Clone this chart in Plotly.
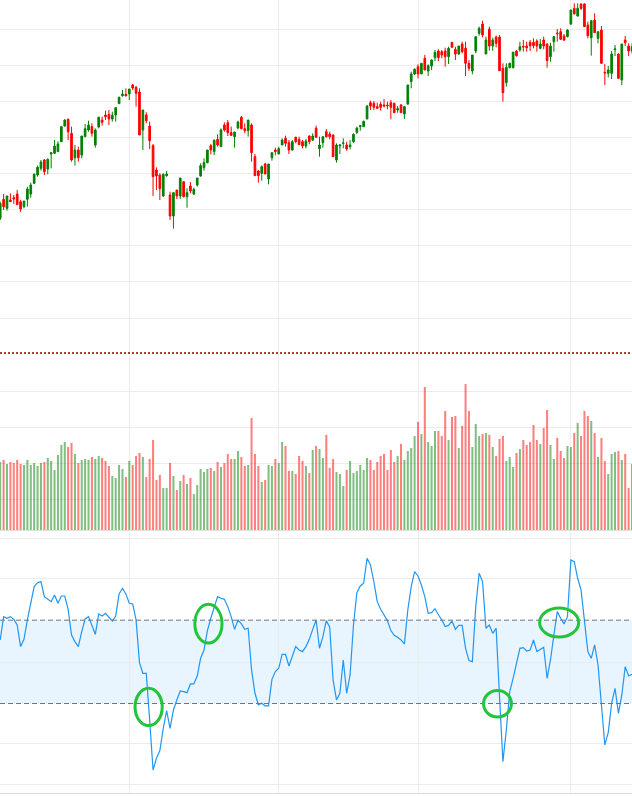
import plotly.graph_objects as go

# ---------------- data ----------------
opens = [134.5, 140.2, 137.5, 140.0, 140.7, 141.8, 139.5, 138.0, 140.2, 141.8,
         145.0, 147.5, 149.5, 152.0, 149.3, 153.8, 154.0, 154.5, 157.5, 162.2,
         164.2, 160.0, 152.7, 155.0, 153.5, 159.0, 161.0, 162.0, 156.5, 161.9,
         164.0, 165.5, 165.7, 164.3, 165.5, 168.9, 171.3, 171.7, 171.8, 174.5,
         173.8, 172.4, 161.0, 165.5, 162.2, 156.3, 149.0, 147.5, 141.2, 147.3,
         141.5, 135.2, 143.0, 141.2, 145.5, 141.0, 144.2, 141.8, 144.5, 147.2,
         149.7, 151.2, 156.3, 154.5, 158.2, 156.0, 162.5, 163.2, 160.2, 159.0,
         161.6, 164.8, 161.4, 160.8, 162.5, 153.0, 148.7, 148.0, 150.8, 146.3,
         152.7, 155.0, 153.8, 156.5, 158.5, 157.2, 155.0, 158.8, 158.2, 157.5,
         156.2, 159.2, 158.0, 161.5, 155.4, 157.2, 160.5, 159.8, 159.5, 152.0,
         156.2, 157.0, 156.5, 156.0, 157.5, 160.3, 162.0, 162.0, 164.3, 169.2,
         169.0, 168.0, 168.7, 168.5, 168.5, 169.2, 169.0, 167.0, 168.5, 165.8,
         168.8, 175.5, 177.8, 180.0, 177.8, 182.5, 178.7, 180.2, 182.7, 184.7,
         184.5, 184.7, 183.0, 187.3, 185.2, 183.8, 186.8, 185.5, 181.0, 178.7,
         184.7, 190.0, 192.8, 183.8, 191.2, 186.2, 188.9, 188.9, 179.5, 175.2,
         179.7, 179.7, 184.7, 185.0, 186.1, 186.2, 187.3, 187.3, 187.7, 185.5,
         188.0, 186.8, 183.0, 187.5, 190.1, 190.5, 189.2, 189.0, 192.8, 197.5,
         195.2, 198.8, 198.8, 192.5, 188.7, 194.0, 188.5, 191.0, 178.3, 178.0,
         178.0, 185.1, 183.8, 176.0, 188.0, 186.2, 184.7]

highs = [139.5, 141.8, 141.2, 142.0, 141.5, 143.0, 140.0, 139.7, 144.0, 145.2,
         148.0, 150.3, 152.0, 152.3, 152.5, 154.2, 158.0, 157.6, 162.2, 164.2,
         164.5, 162.0, 156.5, 156.0, 159.2, 162.8, 163.8, 163.0, 161.5, 165.0,
         165.0, 166.8, 167.0, 166.5, 167.7, 171.0, 173.0, 173.5, 173.3, 174.8,
         174.2, 173.5, 167.0, 166.3, 163.5, 156.8, 149.8, 148.0, 148.0, 148.7,
         142.5, 142.2, 143.0, 146.6, 145.5, 143.5, 145.4, 143.7, 146.6, 151.0,
         152.5, 155.0, 156.8, 158.2, 159.7, 161.5, 163.3, 164.0, 162.0, 160.4,
         163.8, 165.2, 163.0, 164.0, 163.0, 153.8, 149.0, 150.4, 151.2, 150.8,
         154.2, 155.7, 156.0, 158.5, 159.3, 158.0, 158.0, 159.0, 159.0, 158.0,
         158.3, 159.4, 160.0, 162.3, 159.0, 159.0, 161.3, 160.5, 159.7, 157.0,
         156.7, 158.5, 157.5, 158.0, 160.0, 162.0, 162.5, 163.8, 168.5, 169.8,
         169.7, 169.2, 169.5, 170.3, 169.5, 170.0, 169.2, 168.2, 168.8, 168.2,
         174.5, 178.5, 179.5, 180.7, 181.0, 183.5, 180.7, 182.2, 185.0, 185.2,
         185.0, 185.7, 186.0, 187.3, 186.0, 186.2, 187.5, 187.5, 182.0, 183.5,
         189.0, 192.0, 193.8, 189.0, 192.0, 188.7, 189.3, 189.5, 181.0, 181.0,
         181.2, 184.5, 185.0, 187.5, 188.0, 187.5, 188.0, 188.5, 188.2, 188.3,
         189.0, 187.0, 187.2, 189.2, 191.3, 191.5, 189.8, 191.2, 197.0, 199.0,
         199.0, 199.0, 199.0, 193.5, 193.8, 196.0, 190.5, 192.2, 180.8, 180.2,
         184.7, 186.5, 184.0, 186.8, 189.2, 187.0, 187.0]

lows = [134.0, 137.0, 136.8, 139.5, 138.8, 138.6, 136.4, 137.5, 138.0, 140.7,
        144.8, 147.0, 148.8, 147.5, 147.7, 149.5, 153.8, 154.5, 157.5, 162.0,
        158.0, 151.5, 150.3, 151.5, 152.5, 159.0, 160.5, 159.0, 155.7, 161.5,
        162.3, 164.0, 162.5, 163.5, 163.5, 168.9, 171.0, 171.2, 170.0, 173.0,
        168.0, 159.5, 155.0, 163.0, 155.3, 141.2, 143.0, 140.0, 141.0, 147.0,
        134.0, 131.4, 140.3, 140.3, 140.8, 137.7, 142.0, 141.5, 144.0, 147.0,
        148.8, 151.0, 153.7, 153.5, 156.0, 156.0, 160.5, 159.2, 159.2, 155.7,
        161.2, 161.2, 160.0, 159.0, 151.5, 147.3, 145.2, 145.8, 147.8, 144.7,
        151.8, 153.4, 153.8, 156.5, 156.0, 153.8, 154.8, 157.0, 156.5, 155.5,
        155.5, 156.7, 157.7, 158.8, 153.0, 155.7, 158.7, 158.2, 153.0, 151.2,
        153.8, 155.5, 154.8, 155.2, 157.2, 159.8, 160.8, 162.0, 164.3, 167.0,
        167.0, 167.5, 166.8, 167.8, 167.2, 164.2, 166.2, 166.2, 166.2, 164.3,
        168.5, 173.5, 177.5, 176.5, 177.8, 179.0, 177.2, 179.0, 181.7, 181.7,
        182.5, 180.0, 180.8, 185.8, 182.0, 183.5, 184.0, 177.2, 178.7, 177.7,
        184.0, 189.3, 188.8, 183.8, 184.8, 184.8, 185.8, 178.8, 169.5, 174.0,
        179.5, 179.5, 183.0, 184.5, 184.5, 184.5, 184.7, 185.5, 184.5, 185.2,
        185.2, 179.7, 181.5, 184.5, 187.5, 188.0, 187.7, 188.8, 192.5, 195.8,
        195.0, 197.0, 192.0, 188.5, 183.3, 190.2, 187.0, 181.0, 174.5, 176.8,
        176.3, 183.2, 176.3, 174.5, 186.2, 183.2, 184.0]

closes = [139.0, 138.0, 141.2, 139.5, 140.3, 138.6, 137.3, 139.7, 143.3, 144.5,
          147.7, 149.8, 151.4, 148.5, 152.2, 154.2, 156.2, 156.8, 162.0, 164.0,
          160.5, 152.0, 155.0, 152.7, 159.2, 161.4, 162.5, 160.0, 161.0, 164.8,
          163.3, 165.0, 164.3, 165.4, 167.7, 170.8, 171.8, 171.2, 173.3, 173.6,
          172.0, 159.5, 167.0, 163.8, 157.8, 147.0, 147.2, 143.4, 147.7, 147.8,
          135.2, 142.2, 141.2, 146.6, 141.0, 142.2, 142.7, 143.2, 146.6, 150.3,
          151.2, 155.0, 155.0, 157.9, 156.5, 161.0, 161.0, 160.2, 159.4, 160.4,
          163.4, 161.4, 160.8, 164.0, 154.2, 147.3, 147.3, 150.0, 147.8, 150.8,
          154.2, 154.5, 155.4, 158.0, 157.0, 155.0, 157.5, 157.5, 156.6, 156.2,
          157.7, 157.5, 159.2, 158.8, 156.5, 159.0, 159.0, 159.0, 153.0, 156.5,
          156.5, 157.1, 155.3, 156.5, 159.7, 161.6, 162.3, 163.6, 168.2, 168.2,
          167.8, 167.5, 167.8, 168.2, 168.3, 167.8, 166.2, 167.4, 166.2, 168.0,
          174.5, 177.8, 179.2, 177.8, 181.0, 179.0, 180.3, 182.0, 184.3, 182.7,
          183.5, 183.0, 185.5, 185.8, 183.8, 186.2, 184.5, 181.0, 179.5, 183.5,
          189.0, 191.5, 189.5, 188.0, 186.2, 188.0, 187.0, 178.8, 172.2, 179.8,
          181.0, 184.3, 183.3, 186.0, 185.9, 185.7, 186.3, 186.3, 186.2, 186.8,
          186.2, 181.8, 186.2, 189.0, 189.9, 188.2, 188.0, 191.0, 197.0, 195.8,
          197.5, 197.5, 192.0, 189.3, 193.8, 190.2, 190.5, 181.0, 178.1, 179.0,
          183.8, 185.3, 176.5, 186.8, 187.2, 184.7, 186.0]

volumes = [68, 70, 66, 68, 67, 70, 66, 65, 70, 65,
           67, 64, 67, 68, 72, 69, 60, 75, 85, 88,
           83, 87, 76, 67, 70, 71, 70, 73, 71, 74,
           72, 69, 64, 54, 52, 65, 61, 53, 69, 65,
           74, 77, 73, 53, 71, 90, 50, 55, 42, 42,
           67, 54, 40, 49, 55, 46, 52, 36, 45, 61,
           58, 61, 62, 59, 68, 63, 67, 76, 71, 71,
           79, 73, 64, 65, 112, 76, 64, 48, 50, 65,
           64, 71, 67, 88, 84, 59, 59, 56, 74, 69,
           64, 57, 80, 84, 81, 72, 95, 62, 71, 58,
           56, 44, 60, 69, 57, 59, 65, 60, 72, 70,
           60, 68, 74, 76, 60, 80, 68, 74, 86, 70,
           79, 82, 94, 108, 96, 143, 88, 84, 99, 99,
           94, 119, 90, 113, 114, 82, 104, 146, 119, 83,
           106, 94, 96, 97, 95, 83, 74, 91, 94, 69,
           73, 63, 77, 81, 90, 85, 88, 105, 90, 86,
           102, 120, 85, 71, 92, 79, 72, 84, 83, 97,
           107, 94, 119, 114, 109, 97, 73, 92, 69, 56,
           76, 78, 79, 70, 76, 42, 66]

rsi = [60.5, 71.7, 70.9, 71.7, 70.4, 67.7, 57.3, 60.8, 70.1, 78.9,
       86.1, 88.0, 88.5, 81.3, 80.0, 78.9, 82.1, 78.1, 81.6, 81.6,
       75.2, 62.9, 59.7, 57.3, 64.5, 70.6, 71.7, 67.7, 63.2, 73.0,
       72.0, 73.3, 71.4, 69.6, 72.0, 82.6, 85.3, 82.6, 78.1, 77.8,
       70.1, 49.6, 44.5, 44.5, 22.1, -1.9, 3.7, 7.4, 18.1, 26.6,
       18.1, 26.9, 31.7, 36.0, 35.7, 35.2, 39.4, 39.4, 43.2, 51.7,
       55.7, 65.0, 70.9, 76.5, 81.3, 80.5, 80.0, 76.5, 71.7, 65.6,
       70.1, 68.2, 65.6, 66.1, 46.1, 34.9, 29.3, 30.1, 28.9, 28.9,
       41.6, 45.3, 46.9, 53.6, 53.6, 48.0, 52.5, 57.3, 55.7, 54.9,
       57.3, 60.8, 65.6, 70.1, 56.5, 62.1, 69.8, 66.6, 41.3, 31.7,
       34.9, 50.9, 34.9, 43.7, 67.7, 83.2, 86.4, 87.7, 99.7, 96.5,
       88.5, 78.9, 75.2, 72.6, 69.8, 65.0, 62.7, 61.8, 60.5, 58.6,
       74.9, 86.1, 93.3, 91.2, 86.9, 81.3, 73.3, 73.6, 75.5, 72.6,
       70.1, 66.9, 67.5, 69.6, 65.6, 67.5, 67.5, 56.5, 50.6, 50.1,
       76.5, 92.5, 88.5, 66.1, 67.7, 63.7, 66.1, 33.3, 2.1, 17.3,
       35.7, 42.1, 49.6, 56.5, 56.8, 55.2, 55.7, 60.5, 54.9, 56.0,
       57.0, 42.1, 50.9, 62.9, 74.1, 70.9, 68.2, 71.7, 98.9, 98.1,
       90.1, 84.5, 70.1, 54.9, 51.7, 58.1, 48.5, 30.9, 10.1, 16.0,
       30.1, 37.3, 25.3, 34.1, 47.7, 43.2, 44.0]

# bar index of period boundaries (vertical grid lines)
period_ticks = [38, 82, 123, 168]
# oscillator bands
rsi_upper, rsi_lower = 70, 30
# highlighted crossings (x from, x to, y from, y to) in bar index / oscillator units
highlights = [(39.7, 47.7, 19.4, 37.3),
              (57.3, 65.3, 59.0, 77.6),
              (142.3, 150.5, 23.5, 36.2),
              (158.8, 170.3, 61.9, 75.8)]

idx = list(range(len(opens)))

# ---------------- styles ----------------
UP = "#008000"
DOWN = "#ff0000"
GRID = "#ececec"
FIG_W, FIG_H = 632, 796

vol_colors = ["rgba(0,128,0,0.5)" if c >= o else "rgba(255,0,0,0.5)"
              for o, c in zip(opens, closes)]

fig = go.Figure()
fig.add_trace(go.Candlestick(
    x=idx, open=opens, high=highs, low=lows, close=closes,
    xaxis="x", yaxis="y",
    increasing=dict(line=dict(color=UP, width=1), fillcolor=UP),
    decreasing=dict(line=dict(color=DOWN, width=1), fillcolor=DOWN),
    whiskerwidth=0, hoverinfo="skip", showlegend=False))
fig.add_trace(go.Bar(
    x=idx, y=volumes, width=0.6, xaxis="x2", yaxis="y2",
    marker=dict(color=vol_colors, line=dict(width=0)),
    hoverinfo="skip", showlegend=False))
fig.add_trace(go.Scatter(
    x=idx, y=rsi, mode="lines", xaxis="x3", yaxis="y3",
    line=dict(color="#2196f3", width=1.2),
    hoverinfo="skip", showlegend=False))

xcommon = dict(range=[-0.06, 186.0], tickvals=period_ticks, showticklabels=False,
               showgrid=True, gridcolor=GRID, gridwidth=1, zeroline=False,
               ticks="", fixedrange=True)

def px_frac(p):
    return 1 - p / FIG_H

fig.update_layout(
    width=FIG_W, height=FIG_H,
    margin=dict(l=0, r=0, t=0, b=0),
    paper_bgcolor="white", plot_bgcolor="white",
    showlegend=False,
    xaxis=dict(xcommon, anchor="y", showline=False, rangeslider=dict(visible=False)),
    xaxis2=dict(xcommon, anchor="y2", matches="x", showline=False),
    xaxis3=dict(xcommon, anchor="y3", matches="x", showline=True, linecolor="#d8d8d8", linewidth=1),
    yaxis=dict(domain=[px_frac(353), 1], range=[94.1, 200], tick0=104.6, dtick=10.8375,
               showticklabels=False, showgrid=True, gridcolor=GRID, zeroline=False, ticks="",
               fixedrange=True),
    yaxis2=dict(domain=[px_frac(536), px_frac(353)], range=[-6, 177], tickvals=[31, 67, 103, 139],
                showticklabels=False, showgrid=True, gridcolor=GRID, zeroline=True,
                zerolinecolor="#e0e0e0", zerolinewidth=1, ticks="", fixedrange=True),
    yaxis3=dict(domain=[px_frac(793), px_frac(536)], range=[-12.96, 110.4],
                tickvals=[-9.1, 10.6, 49.9, 89.8, 109], showticklabels=False, showgrid=True,
                gridcolor=GRID, zeroline=False, ticks="", fixedrange=True),
)

shapes = [
    # oscillator band
    dict(type="rect", xref="x3 domain", yref="y3", x0=0, x1=1, y0=rsi_lower, y1=rsi_upper,
         fillcolor="rgba(33,150,243,0.1)", line=dict(width=0), layer="below"),
    dict(type="line", xref="x3 domain", yref="y3", x0=0, x1=1, y0=rsi_upper, y1=rsi_upper,
         line=dict(color="#70737d", width=1, dash="5px,3px")),
    dict(type="line", xref="x3 domain", yref="y3", x0=0, x1=1, y0=rsi_lower, y1=rsi_lower,
         line=dict(color="#70737d", width=1, dash="5px,3px")),
    # pane separator
    dict(type="line", xref="paper", yref="y domain", x0=0, x1=1, y0=0, y1=0,
         line=dict(color="#8a0000", width=1.5, dash="2px,2px")),
]
for x0, x1, y0, y1 in highlights:
    shapes.append(dict(type="circle", xref="x3", yref="y3", x0=x0, x1=x1, y0=y0, y1=y1,
                       line=dict(color="#22c43c", width=3)))
fig.update_layout(shapes=shapes)

fig.write_html("out.html", config={"displayModeBar": False})
